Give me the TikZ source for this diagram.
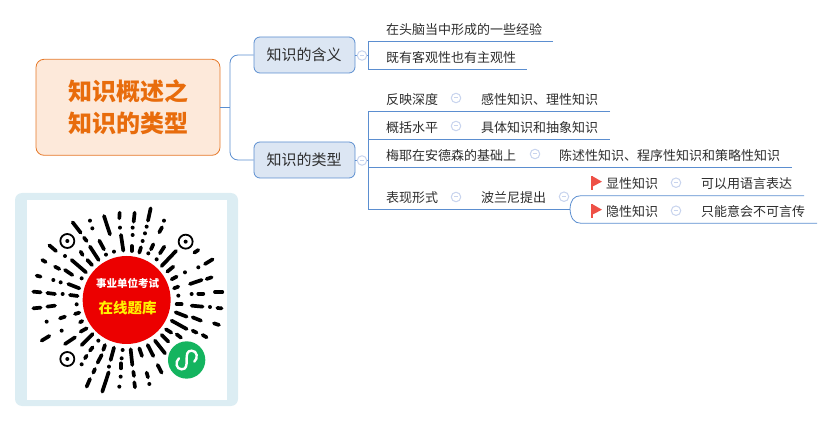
\documentclass[tikz,border=0pt]{standalone}
\usepackage{fontspec}
\setmainfont{Noto Sans CJK SC}
\definecolor{linkc}{RGB}{91,142,208}
\definecolor{foldc}{RGB}{200,212,238}
\definecolor{txt}{RGB}{45,45,45}
\definecolor{rootfill}{RGB}{253,233,218}
\definecolor{rootline}{RGB}{230,120,40}
\definecolor{rootText}{RGB}{232,108,12}
\definecolor{subfill}{RGB}{220,230,243}
\definecolor{cardc}{RGB}{220,237,243}
\definecolor{flagc}{RGB}{238,80,70}
\definecolor{qrred}{RGB}{236,0,0}
\definecolor{qrgreen}{RGB}{20,180,95}
\tikzset{
  x=1pt,y=-1pt,
  link/.style={draw=linkc,line width=0.8pt},
  rootbox/.style={draw=rootline,fill=rootfill,rounded corners=8pt,line width=0.8pt,minimum width=184pt,minimum height=96pt,inner sep=0pt,align=center,text=rootText,font=\fontsize{24}{32}\selectfont\bfseries},
  subbox/.style={draw=linkc,fill=subfill,rounded corners=6pt,line width=0.8pt,minimum width=101pt,minimum height=36pt,inner sep=0pt,text=txt,font=\fontsize{15}{15}\selectfont},
  leaf/.style={anchor=west,inner sep=0pt,text=txt,font=\fontsize{13}{13}\selectfont},
  fold/.style={circle,draw=foldc,fill=white,line width=1pt,minimum size=9.5pt,inner sep=0pt,
    path picture={\draw[foldc,line width=1pt] ([xshift=-2.2pt]path picture bounding box.center) -- ([xshift=2.2pt]path picture bounding box.center);}},
  dashline/.style={line width=3.7pt,line cap=round,black},
}
\begin{document}
\begin{tikzpicture}
\useasboundingbox (0,0) rectangle (833,422);
% root and main branches
\node[rootbox] (root) at (128,107.3) {知识概述之\\知识的类型};
\node[subbox] (s1) at (304.5,55) {\hspace{-1pt}\raisebox{-0.5pt}{知识的含义}};
\node[subbox] (s2) at (304.5,160) {\hspace{-1pt}\raisebox{-0.5pt}{知识的类型}};
\coordinate (j0) at (230,107.3);
\draw[link] (root.east) -- (j0);
\draw[link,rounded corners=8pt] (j0) |- (s1.west);
\draw[link,rounded corners=8pt] (j0) |- (s2.west);
% buses
\coordinate (b1a) at (368,41); \coordinate (b1b) at (368,69);
\coordinate (b2a) at (368,111.3); \coordinate (b2b) at (368,139.5); \coordinate (b2c) at (368,167.5); \coordinate (b2d) at (368,209);
\coordinate (e1a) at (553,41); \coordinate (e1b) at (527,69);
\coordinate (e2a) at (610,111.3); \coordinate (e2b) at (610,139.5); \coordinate (e2c) at (792,167.5); \coordinate (e2d) at (570,209);
\draw[link] (s1.east) -- (b1a |- s1.east);
\draw[link] (s2.east) -- (b2a |- s2.east);
\draw[link] (e1a) -- (b1a) -- (b1b) -- (e1b);
\draw[link] (e2a) -- (b2a) -- (b2d) -- (e2d);
\draw[link] (b2b) -- (e2b);
\draw[link] (b2c) -- (e2c);
\coordinate (e3a) at (804,195.7); \coordinate (e3b) at (817,223.3);
\draw[link] (e2d) .. controls (570.5,200) and (574,195.7) .. (581,195.7) -- (e3a);
\draw[link] (e2d) .. controls (570.5,218) and (574,223.3) .. (581,223.3) -- (e3b);
% fold marks
\node[fold] (f1) at (362,55.5) {};
\node[fold] (f2) at (362,160.5) {};
\node[fold] (f3) at (456,98) {};
\node[fold] (f4) at (456,126) {};
\node[fold] (f5) at (535,154) {};
\node[fold] (f9) at (456,197) {};
\node[fold] (f6) at (564,196.7) {};
\node[fold] (f7) at (676,182.7) {};
\node[fold] (f8) at (676,210.7) {};
% leaves
\node[leaf] (t1) at (386,29.7) {在头脑当中形成的一些经验};
\node[leaf] (t2) at (386,57.7) {既有客观性也有主观性};
\node[leaf] (t3) at (386,99.7) {反映深度};
\node[leaf] (t3b) at (481,99.7) {感性知识、理性知识};
\node[leaf] (t4) at (386,127.7) {概括水平};
\node[leaf] (t4b) at (481,127.7) {具体知识和抽象知识};
\node[leaf] (t5) at (386,155.7) {梅耶在安德森的基础上};
\node[leaf] (t5b) at (559,155.7) {陈述性知识、程序性知识和策略性知识};
\node[leaf] (t6) at (386,197.7) {表现形式};
\node[leaf] (t6b) at (481,197.7) {波兰尼提出};
\node[leaf] (t7) at (606,183.7) {显性知识};
\node[leaf] (t7b) at (701,183.7) {可以用语言表达};
\node[leaf] (t8) at (606,211.7) {隐性知识};
\node[leaf] (t8b) at (701,211.7) {只能意会不可言传};
% flags
\foreach \d in {0,28}{
  \fill[flagc] (591,176+\d) rectangle (592.6,190+\d);
  \fill[flagc] (592.6,176.3+\d) -- (602,181.7+\d) -- (592.6,186.5+\d) -- cycle;
}
% QR card
\fill[cardc,rounded corners=7pt] (15,193) rectangle (238,406);
\fill[white] (27,200) rectangle (227,400);
\begin{scope}[shift={(10pt,-190pt)},x=0.3333pt,y=-0.3333pt]
\foreach \a/\b/\c/\d in {422/55/414/92,374/68/371/95,329/68/328/85,282/78/300/133,188/97/212/128,456/112/448/127,333/135/340/182,222/143/230/153,268/152/282/178,118/166/138/183,240/170/266/210,212/185/218/195,365/168/365/183,393/172/388/188,430/163/423/178,463/170/450/190,498/183/455/228,565/180/553/188,97/210/107/216,185/210/228/247,232/210/246/225,608/208/585/222,490/230/472/245,135/230/148/237,165/240/187/255,80/257/92/260,500/260/485/268,605/262/590/267,575/270/540/282,175/282/208/295,505/290/492/295,70/305/92/307,112/309/135/312,180/315/203/318,615/306/637/306,565/311/580/311,500/343/515/343,70/355/92/353,112/350/135/347,545/347/578/350,622/354/635/355,195/372/208/368,150/385/165/380,497/367/530/380,210/397/217/393,548/382/573/392,485/392/530/417,612/400/627/405,212/425/230/415,548/422/560/428,95/452/118/438,165/462/195/442,215/465/248/432,468/418/484/428,455/435/475/455,500/433/513/443,578/435/590/442,435/452/465/490,285/465/280/480,413/465/430/498,388/475/396/498,362/478/367/525,312/473/302/510,248/472/240/482,275/495/263/518,230/497/225/505,333/520/333/535,255/537/250/548,443/525/455/548,296/547/277/605,370/545/372/558,410/548/414/562,240/567/230/590,373/577/375/592}{
  \draw[dashline] (\a,\b) -- (\c,\d);
}
\foreach \a/\b in {240/92,462/92,247/115,330/113,368/113,410/110,368/135,405/130,398/153,312/185,288/194,415/190,165/198,440/208,525/247,565/232,215/265,130/270,152/277,158/312,545/312,505/317,200/343,600/351,110/395,155/422,265/452,338/480,335/505,215/523,297/530,332/560,418/582,328/590}{
  \fill[black] (\a,\b) circle[radius=6];
}
\foreach \a/\b in {172/153,527/155,172/507}{
  \draw[black,line width=1.8pt] (\a,\b) circle[radius=21];
  \fill[black] (\a,\b) circle[radius=6];
}
\fill[qrred] (350,330) circle[radius=132];
\fill[qrgreen] (530,510) circle[radius=56];
\draw[white,line width=2.4pt,line cap=round] (507,505) .. controls (495,515) and (498,538) .. (515,538) .. controls (530,538) and (530,525) .. (530,510) .. controls (530,495) and (530,482) .. (545,482) .. controls (562,482) and (565,505) .. (553,515);
\node[inner sep=0pt,text=white,font=\fontsize{10.5}{10.5}\selectfont\bfseries] (q1) at (353,280) {事业单位考试};
\node[inner sep=0pt,text=yellow,font=\fontsize{14.5}{14.5}\selectfont\bfseries] (q2) at (353,355) {在线题库};
\end{scope}
\end{tikzpicture}
\end{document}
